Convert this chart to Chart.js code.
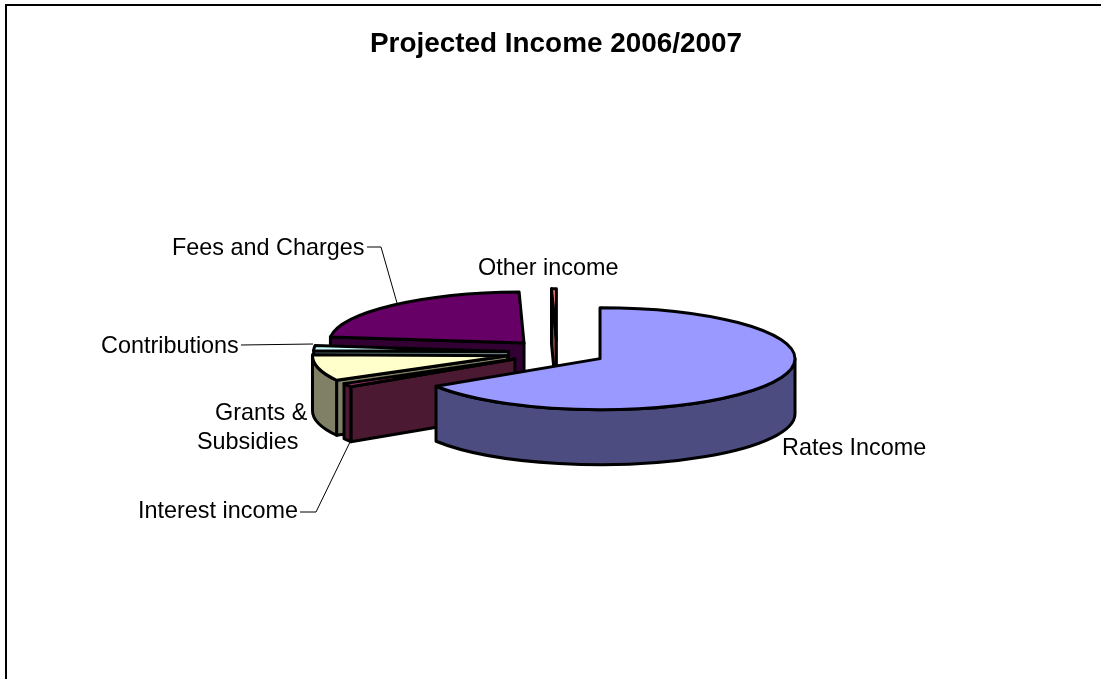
<!DOCTYPE html>
<html>
<head>
<meta charset="utf-8">
<style>
  html, body { margin: 0; padding: 0; background: #ffffff; overflow: hidden; }
  #wrap { position: relative; width: 1101px; height: 679px; }
</style>
<script src="https://cdn.jsdelivr.net/npm/chart.js@4/dist/chart.umd.min.js"></script>
</head>
<body>
<div id="wrap"><canvas id="income" width="1101" height="679"></canvas></div>
<script>
// Income sources, in pie order (clockwise from twelve o'clock), as percentages.
const categories = ['Rates Income', 'Interest income', 'Grants & Subsidies', 'Contributions', 'Fees and Charges', 'Other income'];
const shares = [65.9, 1.1, 8.3, 1.6, 22.7, 0.4];
const topColors = ['#9999FF', '#993366', '#FFFFCC', '#CCFFFF', '#660066', '#FF8080'];
const sideColors = ['#4C4C80', '#4C1933', '#808066', '#668080', '#330033', '#804040'];
const explosion = [49, 49, 51, 48.5, 49, 49];

// Tilted-pie projection.
const PIE = { x: 557, y: 352.5, radius: 195, squash: 51 / 195, depth: 55, outline: 3 };

// Label text placement, each with an optional elbowed leader line.
const FONT = '23.4px "Liberation Sans", Arial, sans-serif';
const labelPlacement = [
  { lines: ['Rates Income'], x: 782, y: 449 },
  { lines: ['Interest income'], x: 138, y: 512, leader: [[300, 512], [316, 512], [350, 442]] },
  { lines: ['Grants & ', 'Subsidies'], x: 215, y: 414, x2: 197, lineGap: 29 },
  { lines: ['Contributions'], x: 101, y: 347, leader: [[241, 345], [313, 344]] },
  { lines: ['Fees and Charges'], x: 172, y: 249, leader: [[367, 247], [381, 247], [397, 303]] },
  { lines: ['Other income'], x: 478, y: 269 }
];

// Draws one extruded slice from the angles the library computed for its arc.
function drawSlice(ctx, arc, top, side, explode) {
  const a0 = arc.startAngle, a1 = arc.endAngle, mid = (a0 + a1) / 2;
  const r = arc.outerRadius, ry = r * PIE.squash, d = PIE.depth;
  const px = PIE.x + Math.cos(mid) * explode;
  const py = PIE.y + Math.sin(mid) * explode * PIE.squash;
  const rim = a => [px + Math.cos(a) * r, py + Math.sin(a) * ry];

  ctx.lineWidth = PIE.outline;
  ctx.lineJoin = 'round';
  ctx.strokeStyle = '#000000';
  ctx.fillStyle = side;

  // Flat cut faces that turn toward the viewer.
  [[a0, Math.cos(a0) < 0], [a1, Math.cos(a1) > 0]].forEach(([a, facing]) => {
    if (!facing) return;
    const [ex, ey] = rim(a);
    ctx.beginPath();
    ctx.moveTo(px, py);
    ctx.lineTo(ex, ey);
    ctx.lineTo(ex, ey + d);
    ctx.lineTo(px, py + d);
    ctx.closePath();
    ctx.fill();
    ctx.stroke();
  });

  // Curved outer wall: only the part of the rim on the near half of the ellipse.
  const TAU = Math.PI * 2;
  for (const shift of [-TAU, 0, TAU]) {
    const w0 = Math.max(a0, shift), w1 = Math.min(a1, shift + Math.PI);
    if (w1 <= w0) continue;
    ctx.beginPath();
    ctx.ellipse(px, py, r, ry, 0, w0, w1);
    ctx.ellipse(px, py + d, r, ry, 0, w1, w0, true);
    ctx.closePath();
    ctx.fill();
    ctx.stroke();
  }

  // Top surface.
  ctx.fillStyle = top;
  ctx.beginPath();
  ctx.moveTo(px, py);
  ctx.ellipse(px, py, r, ry, 0, a0, a1);
  ctx.closePath();
  ctx.fill();
  ctx.stroke();
}

const tiltedPie = {
  id: 'tiltedPie',
  beforeDatasetsDraw(chart) {
    const ctx = chart.ctx;
    const arcs = chart.getDatasetMeta(0).data;
    ctx.save();
    // Back slices first, so the large front slice overlaps the rest.
    for (let i = arcs.length - 1; i >= 0; i--) {
      drawSlice(ctx, arcs[i], topColors[i], sideColors[i], explosion[i]);
    }
    ctx.restore();
    return false;
  },
  afterDraw(chart) {
    const ctx = chart.ctx;
    ctx.save();
    // Frame: only the top and left edges fall inside the canvas.
    ctx.strokeStyle = '#000000';
    ctx.lineWidth = 2;
    ctx.beginPath();
    ctx.moveTo(6, 679);
    ctx.lineTo(6, 5);
    ctx.lineTo(1101, 5);
    ctx.stroke();

    // Labels and leader lines.
    ctx.fillStyle = '#000000';
    ctx.font = FONT;
    ctx.textBaseline = 'middle';
    ctx.textAlign = 'left';
    ctx.lineWidth = 1;
    labelPlacement.forEach(p => {
      p.lines.forEach((line, n) => {
        const x = n && p.x2 !== undefined ? p.x2 : p.x;
        ctx.fillText(line, x, p.y + n * (p.lineGap || 0));
      });
      if (p.leader) {
        ctx.beginPath();
        p.leader.forEach(([x, y], n) => n ? ctx.lineTo(x, y) : ctx.moveTo(x, y));
        ctx.stroke();
      }
    });
    ctx.restore();
  }
};

new Chart(document.getElementById('income'), {
  type: 'pie',
  data: {
    labels: categories,
    datasets: [{ data: shares, backgroundColor: topColors }]
  },
  plugins: [tiltedPie],
  options: {
    responsive: false,
    animation: false,
    radius: PIE.radius,
    layout: { padding: { left: 11 } },
    plugins: {
      legend: { display: false },
      tooltip: { enabled: false },
      title: {
        display: true,
        text: 'Projected Income 2006/2007',
        color: '#000000',
        font: { family: '"Liberation Sans", Arial, sans-serif', size: 27.9, weight: 'bold' },
        padding: { top: 27.5, bottom: 10 }
      }
    }
  }
});
</script>
</body>
</html>
